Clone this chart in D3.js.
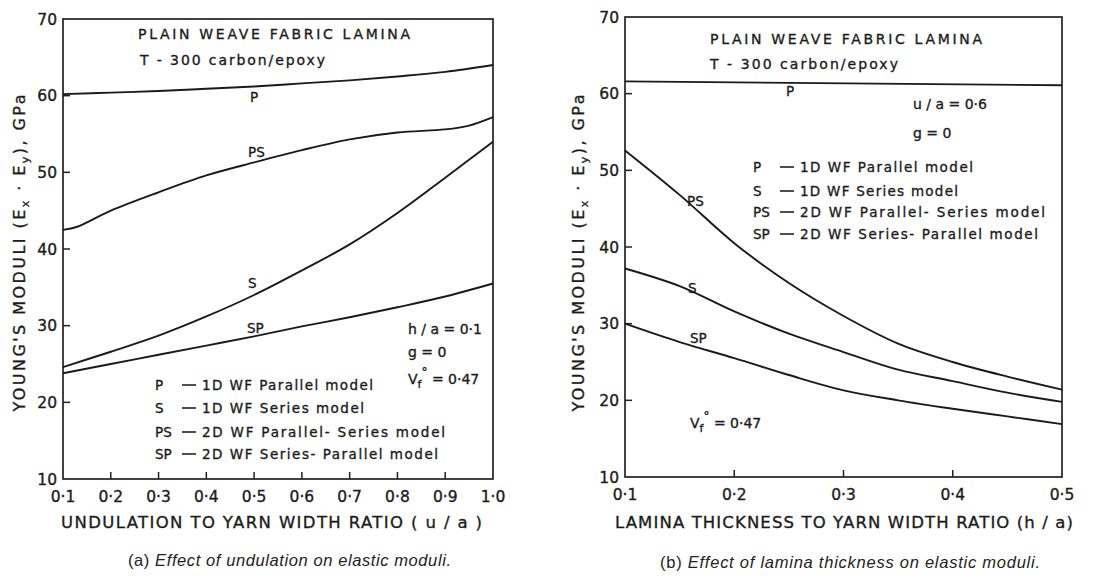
<!DOCTYPE html>
<html><head><meta charset="utf-8">
<script src="https://cdn.jsdelivr.net/npm/d3@7"></script>
<style>
body{margin:0;background:#fff;}
svg text{font-family:"DejaVu Sans",sans-serif;fill:#1c1c1c;stroke:#1c1c1c;stroke-width:0.35px;}
svg text.cap{stroke:none;fill:#222;}
</style></head>
<body><svg id="c" width="1108" height="577"></svg>
<script>
// ---- Panel (a): undulation to yarn width ratio (u/a) ----
const uaP  = [0.1,0.2,0.3,0.4,0.5,0.6,0.7,0.8,0.9,1.0];
const aP   = [60.2,60.4,60.6,60.9,61.2,61.6,62.0,62.5,63.1,64.0];
const uaPS = [0.1,0.13,0.2,0.3,0.4,0.5,0.6,0.7,0.8,0.9,0.95,1.0];
const aPS  = [42.5,42.9,45.0,47.4,49.6,51.3,52.9,54.3,55.2,55.6,56.1,57.2];
const uaS  = [0.1,0.2,0.3,0.4,0.5,0.6,0.7,0.8,0.9,1.0];
const aS   = [24.6,26.6,28.7,31.2,34.0,37.2,40.6,44.7,49.3,54.0];
const uaSP = [0.1,0.2,0.3,0.4,0.5,0.6,0.7,0.8,0.9,1.0];
const aSP  = [23.8,25.0,26.2,27.4,28.6,29.9,31.1,32.4,33.8,35.5];
const aXTicks = ["0·1","0·2","0·3","0·4","0·5","0·6","0·7","0·8","0·9","1·0"];
const aXTickVals = [0.1,0.2,0.3,0.4,0.5,0.6,0.7,0.8,0.9,1.0];

// ---- Panel (b): lamina thickness to yarn width ratio (h/a) ----
const ha   = [0.1,0.15,0.2,0.25,0.3,0.35,0.4,0.45,0.5];
const haP  = [0.1,0.5];
const bP   = [61.6,61.1];
const bPS  = [52.6,46.8,40.5,35.3,31.0,27.4,25.0,23.1,21.4];
const bS   = [37.2,34.9,31.6,28.7,26.3,24.0,22.5,21.0,19.8];
const bSP  = [30.0,27.6,25.5,23.3,21.3,20.0,18.9,17.9,16.9];
const bXTicks = ["0·1","0·2","0·3","0·4","0·5"];
const bXTickVals = [0.1,0.2,0.3,0.4,0.5];

const yTicks = [10,20,30,40,50,60,70];
const legendAbbr = ["P","S","PS","SP"];
const legendText = ["1D WF Parallel model","1D WF Series model","2D WF Parallel- Series model","2D WF Series- Parallel model"];

const svg = d3.select("#c");

function panel(cfg){
  const x = d3.scaleLinear().domain(cfg.xdom).range(cfg.xr);
  const y = d3.scaleLinear().domain([10,70]).range(cfg.yr);
  const g = svg.append("g");
  g.append("rect").attr("x",cfg.xr[0]).attr("y",cfg.yr[1])
    .attr("width",cfg.xr[1]-cfg.xr[0]).attr("height",cfg.yr[0]-cfg.yr[1])
    .attr("fill","none").attr("stroke","#222").attr("stroke-width",1.7);
  g.selectAll(".yt").data(yTicks.slice(1,-1)).join("line")
    .attr("x1",cfg.xr[0]).attr("x2",cfg.xr[0]+7)
    .attr("y1",d=>y(d)).attr("y2",d=>y(d)).attr("stroke","#222").attr("stroke-width",1.5);
  g.selectAll(".yl").data(yTicks).join("text")
    .attr("x",cfg.xr[0]-6).attr("y",d=>y(d)+5.5).attr("text-anchor","end")
    .attr("font-size",15.5).text(d=>d);
  g.selectAll(".xt").data(cfg.xticks.slice(1,-1)).join("line")
    .attr("x1",d=>x(d)).attr("x2",d=>x(d))
    .attr("y1",cfg.yr[0]).attr("y2",cfg.yr[0]-7).attr("stroke","#222").attr("stroke-width",1.5);
  g.selectAll(".xl").data(cfg.xticks).join("text")
    .attr("x",d=>x(d)).attr("y",cfg.yr[0]+23).attr("text-anchor","middle")
    .attr("font-size",15.5).text((d,i)=>cfg.xlabels[i]);
  const line = d3.line().x(d=>x(d[0])).y(d=>y(d[1])).curve(d3.curveCatmullRom.alpha(0.5));
  cfg.series.forEach(s=>{
    g.append("path").datum(s.xs.map((v,i)=>[v,s.ys[i]]))
      .attr("d",line).attr("fill","none").attr("stroke","#1a1a1a").attr("stroke-width",1.9);
  });
  cfg.labels.forEach(l=>{
    g.append("text").attr("x",l[1]).attr("y",l[2]).attr("font-size",13.5).text(l[0]);
  });
  g.append("text").attr("x",cfg.t1[0]).attr("y",cfg.t1[1]).attr("font-size",14)
    .attr("textLength",cfg.t1[2]).attr("lengthAdjust","spacing").text("PLAIN WEAVE FABRIC LAMINA");
  g.append("text").attr("x",cfg.t2[0]).attr("y",cfg.t2[1]).attr("font-size",14)
    .attr("textLength",cfg.t2[2]).attr("lengthAdjust","spacing").text("T - 300 carbon/epoxy");
  legendAbbr.forEach((a,i)=>{
    const ly = cfg.leg.y[i];
    g.append("text").attr("x",cfg.leg.x0).attr("y",ly).attr("font-size",13.5).text(a);
    g.append("line").attr("x1",cfg.leg.x0+27).attr("x2",cfg.leg.x0+41)
      .attr("y1",ly-5).attr("y2",ly-5).attr("stroke","#222").attr("stroke-width",1.6);
    g.append("text").attr("x",cfg.leg.x0+47).attr("y",ly).attr("font-size",13.5)
      .attr("textLength",cfg.leg.w[i]).attr("lengthAdjust","spacing").text(legendText[i]);
  });
  g.append("text").attr("x",cfg.xt[0]).attr("y",cfg.xt[1]).attr("font-size",16.5)
    .attr("textLength",cfg.xt[2]).attr("lengthAdjust","spacing").text(cfg.xtitle);
  const yl = g.append("text").attr("transform",`translate(${cfg.yt[0]},${cfg.yt[1]}) rotate(-90)`)
    .attr("font-size",16).attr("text-anchor","middle")
    .attr("textLength",317).attr("lengthAdjust","spacing");
  yl.append("tspan").text("YOUNG'S MODULI (E");
  yl.append("tspan").attr("font-size",11).attr("dy",4).text("x");
  yl.append("tspan").attr("dy",-4).text(" · E");
  yl.append("tspan").attr("font-size",11).attr("dy",4).text("y");
  yl.append("tspan").attr("dy",-4).text("), GPa");
  const cap = g.append("text").attr("class","cap").attr("x",cfg.cap[0]).attr("y",cfg.cap[1])
    .attr("font-size",16.5).style("font-family","'Liberation Sans',Arial,sans-serif")
    .attr("textLength",cfg.cap[2]).attr("lengthAdjust","spacing");
  cap.append("tspan").text(cfg.capA+" ");
  cap.append("tspan").attr("font-style","italic").text(cfg.capB);
  return {g,x,y};
}

function vf(g, x0, yb){
  const t = g.append("text").attr("x",x0).attr("y",yb).attr("font-size",14);
  t.append("tspan").text("V");
  t.append("tspan").attr("font-size",11).attr("dy",4).text("f");
  t.append("tspan").attr("font-size",12).attr("dy",-12).text("°");
  t.append("tspan").attr("dy",8).text(" =  0·47");
}

const A = panel({
  xdom:[0.1,1.0], xr:[63,493], yr:[479,19],
  xticks:aXTickVals, xlabels:aXTicks,
  series:[{xs:uaP,ys:aP},{xs:uaPS,ys:aPS},{xs:uaS,ys:aS},{xs:uaSP,ys:aSP}],
  labels:[["P",250,102],["PS",248,157],["S",248,288],["SP",247,333]],
  t1:[138,39,272], t2:[140,65,185],
  leg:{x0:155,y:[390,413,437,459],w:[171,162,243,236]},
  xtitle:"UNDULATION TO YARN WIDTH RATIO ( u / a )", xt:[61,528,421],
  yt:[25,253],
  cap:[128,566,323], capA:"(a)", capB:"Effect of undulation on elastic moduli."
});
A.g.append("text").attr("x",408).attr("y",334).attr("font-size",14).text("h / a  =  0·1");
A.g.append("text").attr("x",408).attr("y",357).attr("font-size",14).text("g  =  0");
vf(A.g,408,384);

const B = panel({
  xdom:[0.1,0.5], xr:[625,1062], yr:[477,17],
  xticks:bXTickVals, xlabels:bXTicks,
  series:[{xs:haP,ys:bP},{xs:ha,ys:bPS},{xs:ha,ys:bS},{xs:ha,ys:bSP}],
  labels:[["P",786,96],["PS",687,206],["S",688,293],["SP",690,343]],
  t1:[710,44,272], t2:[710,69,188],
  leg:{x0:753,y:[172,196,217,239],w:[173,158,245,238]},
  xtitle:"LAMINA THICKNESS TO YARN WIDTH RATIO (h / a)", xt:[615,528,458],
  yt:[584,253],
  cap:[660,568,380], capA:"(b)", capB:"Effect of lamina thickness on elastic moduli."
});
B.g.append("text").attr("x",913).attr("y",109).attr("font-size",14).text("u / a  =  0·6");
B.g.append("text").attr("x",913).attr("y",138).attr("font-size",14).text("g  =  0");
vf(B.g,690,428);
</script></body></html>
